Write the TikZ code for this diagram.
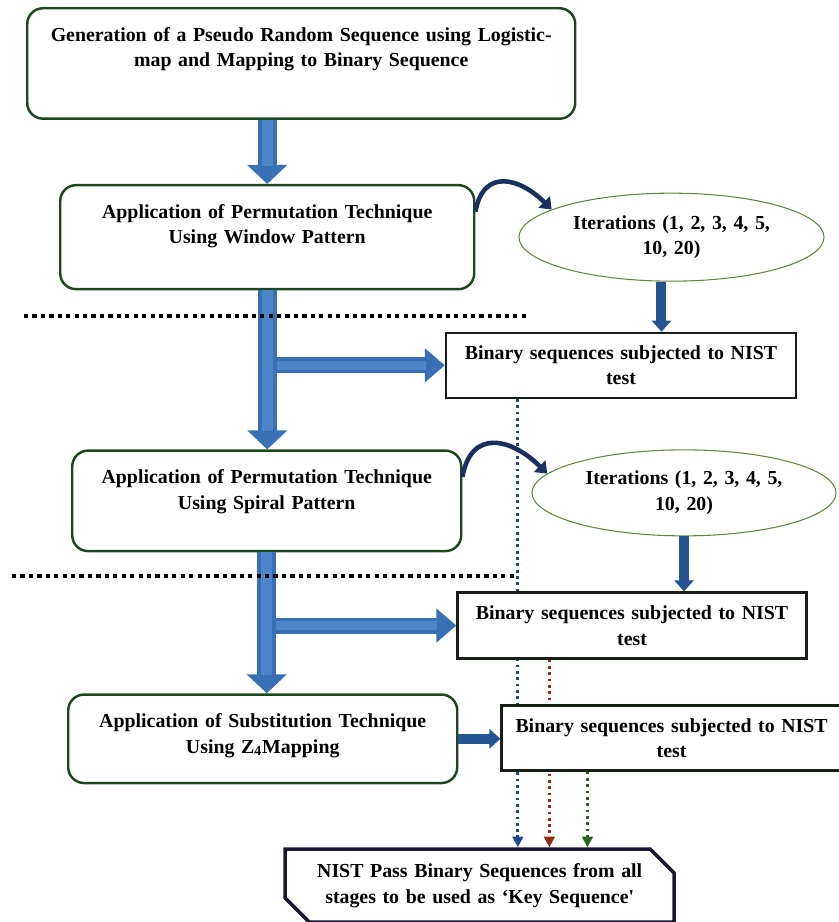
\documentclass[tikz,border=0pt]{standalone}
\usepackage{fontspec}
\setmainfont{Liberation Serif}
\usepackage{tikz}
\usetikzlibrary{shapes,arrows.meta,positioning,calc,backgrounds}

\definecolor{stagegreen}{RGB}{28,72,30}
\definecolor{itergreen}{RGB}{96,136,62}
\definecolor{nistblack}{RGB}{22,30,22}
\definecolor{passnavy}{RGB}{26,22,48}
\definecolor{blockblue}{RGB}{56,112,182}
\definecolor{blocklight}{RGB}{76,134,200}
\definecolor{darkblue}{RGB}{36,84,145}
\definecolor{curvenavy}{RGB}{24,48,96}
\definecolor{dotblue}{RGB}{30,72,140}
\definecolor{dotred}{RGB}{150,42,12}
\definecolor{dotgreen}{RGB}{40,100,30}

\begin{document}
\begin{tikzpicture}[node distance=1cm, every node/.style={font=\fontsize{11.3}{14.5}\selectfont\bfseries}]

    % styles for the flow chart
    \tikzset{
        stagebox/.style={draw=stagegreen, line width=1.4pt, rounded corners=9pt, fill=white, align=center, inner xsep=0.2cm, inner ysep=0.38cm, anchor=north west},
        iterbox/.style={ellipse, draw=itergreen, line width=0.6pt, fill=white, align=center, text width=4.3cm, inner sep=0pt},
        nistbox/.style={draw=nistblack, line width=1.3pt, fill=white, align=center, text width=6.6cm, inner sep=0pt},
        passbox/.style={chamfered rectangle, chamfered rectangle corners={north east,south west}, chamfered rectangle sep=0.24cm, draw=passnavy, line width=2pt, fill=white, align=center, text width=7cm, inner sep=0pt},
        bigarrow/.style={line width=0.38cm, draw=blockblue, -{Triangle[width=0.78cm,length=0.38cm]},
            postaction={draw=blocklight, line width=0.22cm, -, shorten >=0.36cm}},
        brancharrow/.style={line width=0.32cm, draw=blockblue, -{Triangle[width=0.66cm,length=0.4cm]},
            postaction={draw=blocklight, line width=0.18cm, -, shorten >=0.38cm}},
        smallarrow/.style={line width=0.2cm, draw=darkblue, -{Triangle[width=0.38cm,length=0.22cm]}},
        curvearrow/.style={line width=2.6pt, draw=curvenavy, -{Triangle[width=9pt,length=6pt]}},
        passline/.style={line width=1.6pt, dash pattern=on 1.6pt off 2pt, -{Triangle[width=6pt,length=6pt]}},
        sepline/.style={line width=2.2pt, dash pattern=on 2.4pt off 2.4pt}
    }

    \useasboundingbox (0,0) rectangle (16.78,-18.44);

    % stages on the left
    \node[stagebox, minimum width=10.96cm, text width=10.5cm, text depth=1.17cm] (gen) at (0.52,-0.14) {
        Generation of a Pseudo Random Sequence using Logistic-\\
        map and Mapping to Binary Sequence};
    \node[stagebox, below right=1.28cm and 0.66cm of gen.south west, minimum width=8.28cm, text width=7.8cm, text depth=1.04cm] (win) {
        Application of Permutation Technique\\
        Using Window Pattern};
    \node[stagebox, below right=3.18cm and 0.24cm of win.south west, minimum width=7.78cm, text width=7.3cm, text depth=0.97cm] (spi) {
        Application of Permutation Technique\\
        Using Spiral Pattern};
    \node[stagebox, below right=2.82cm and -0.08cm of spi.south west, minimum width=7.78cm, text width=7.3cm, text depth=0.73cm] (sub) {
        Application of Substitution Technique\\
        Using Z\textsubscript{4}Mapping};

    % iterations and NIST tests on the right
    \node[iterbox, right=0.86cm of win.east, minimum width=6.1cm, minimum height=1.76cm] (it1) {Iterations (1, 2, 3, 4, 5,\\10, 20)};
    \node[nistbox, below=1.0cm of it1, xshift=-1.01cm, minimum width=7cm, minimum height=1.3cm] (bin1) {Binary sequences subjected to NIST\\test};
    \node[iterbox, right=1.38cm of spi.east, yshift=0.16cm, minimum width=6.06cm, minimum height=1.72cm] (it2) {Iterations (1, 2, 3, 4, 5,\\10, 20)};
    \node[nistbox, below=1.1cm of it2, xshift=-1.04cm, minimum width=6.98cm, minimum height=1.32cm] (bin2) {Binary sequences subjected to NIST\\test};
    \node[nistbox, below right=0.22cm and 0.84cm of sub.north east, minimum width=6.8cm, minimum height=1.3cm] (bin3) {Binary sequences subjected to NIST\\test};

    % final key sequence
    \node[passbox, below right=1.26cm and -3.5cm of sub.south east, minimum width=7.78cm, minimum height=1.46cm] (pass) {
        NIST Pass Binary Sequences from all\\
        stages to be used as `Key Sequence\textquotesingle};

    % dotted lines into the final box, behind the test boxes
    \coordinate (d1) at ($(bin1.south west)+(1.46,0)$);
    \coordinate (d2) at ($(bin2.south west)+(1.86,0)$);
    \coordinate (d3) at ($(bin3.south west)+(1.74,0)$);
    \begin{scope}[on background layer]
        \draw[passline, dotblue] (d1) -- (d1 |- pass.north);
        \draw[passline, dotred] (d2) -- (d2 |- pass.north);
        \draw[passline, dotgreen] (d3) -- (d3 |- pass.north);
    \end{scope}

    % block arrows down the left
    \draw[bigarrow] (gen.south -| win.north) -- (win.north);
    \draw[brancharrow] (win.south |- bin1.west) -- (bin1.west);
    \draw[bigarrow] (win.south) -- (win.south |- spi.north);
    \draw[brancharrow] (spi.south |- bin2.west) -- (bin2.west);
    \draw[bigarrow] (spi.south) -- (spi.south |- sub.north);
    \draw[smallarrow] (sub.east) -- (bin3.west |- sub.east);

    % iterations
    \draw[curvearrow] (win.7) to[out=80, in=135, looseness=1.5] (it1.167);
    \draw[curvearrow] (spi.7) to[out=80, in=135, looseness=1.5] (it2.172);
    \coordinate (a1) at ($(it1.south)+(-0.2,0)$);
    \draw[smallarrow] (a1) -- (a1 |- bin1.north);
    \draw[smallarrow] (it2.south) -- (it2.south |- bin2.north);

    % separators
    \draw[sepline] (0.48,-6.32) -- (10.54,-6.32);
    \draw[sepline] (0.24,-11.52) -- (10.32,-11.52);

\end{tikzpicture}
\end{document}
